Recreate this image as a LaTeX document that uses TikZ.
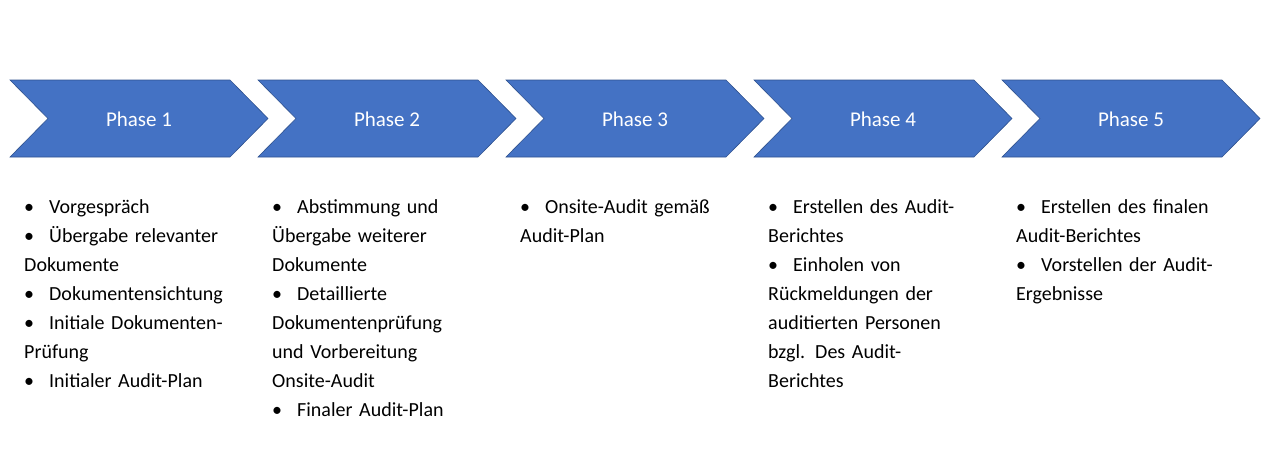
\documentclass[tikz,border=0pt]{standalone}
\usepackage{fontspec}
\setmainfont{Carlito}
\newcommand{\bitem}[1]{\par\hangindent=25pt\hangafter=1\noindent\makebox[25pt][l]{•}#1}
\tikzset{
  chev/.style={fill=blue!50!cyan!40!black!0, fill={rgb,255:red,68;green,114;blue,196}, draw={rgb,255:red,47;green,82;blue,143}, line width=0.6pt},
  title/.style={text=white, font=\fontsize{21pt}{25pt}\selectfont},
  list/.style={anchor=north west, text width=270pt, align=left, inner sep=0pt, font=\fontsize{20pt}{29pt}\selectfont}
}
\begin{document}
\begin{tikzpicture}[x=1pt,y=-1pt]
\useasboundingbox (0,0) rectangle (1280,461);
\foreach \i in {0,...,4}{
  \pgfmathsetmacro{\xo}{10+248*\i}
  \fill[chev] (\xo,80) -- (\xo+220,80) -- (\xo+258,118.5) -- (\xo+220,157) -- (\xo,157) -- (\xo+38,118.5) -- cycle;
  \pgfmathtruncatemacro{\n}{\i+1}
  \node[title] (p\n) at (\xo+129,119) {Phase \n};
}
\node[list] (l1) at (24,184) {\bitem{Vorgespräch}\bitem{Übergabe relevanter\\Dokumente}\bitem{Dokumentensichtung}\bitem{Initiale Dokumenten-\\Prüfung}\bitem{Initialer Audit-Plan}};
\node[list] (l2) at (272,184) {\bitem{Abstimmung und\\Übergabe weiterer\\Dokumente}\bitem{Detaillierte\\Dokumentenprüfung\\und Vorbereitung\\Onsite-Audit}\bitem{Finaler Audit-Plan}};
\node[list] (l3) at (520,184) {\bitem{Onsite-Audit gemäß\\Audit-Plan}};
\node[list] (l4) at (768,184) {\bitem{Erstellen des Audit-\\Berichtes}\bitem{Einholen von\\Rückmeldungen der\\auditierten Personen\\bzgl. Des Audit-\\Berichtes}};
\node[list] (l5) at (1016,184) {\bitem{Erstellen des finalen\\Audit-Berichtes}\bitem{Vorstellen der Audit-\\Ergebnisse}};
\end{tikzpicture}
\end{document}
